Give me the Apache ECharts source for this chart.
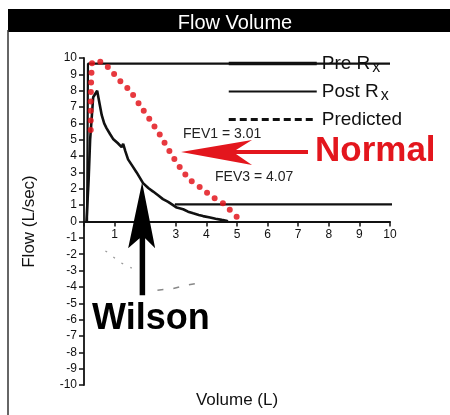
<!DOCTYPE html>
<html><head><meta charset="utf-8">
<script src="https://cdn.jsdelivr.net/npm/echarts@6/dist/echarts.min.js"></script>
<style>html,body{margin:0;padding:0;background:#fff}#c{width:450px;height:415px}</style>
</head><body><div id="c"></div>
<script>
// ---- data ----
const seriesNames = ['Pre Rx', 'Post Rx', 'Predicted'];
const preRx = [[0.1, 0], [0.13, 9.65], [10, 9.65]];
const preRxTail = [[2.97, 1.05], [12, 1.05]];
const postRx = [[0.08, 0], [0.15, 2.5], [0.2, 5.0], [0.3, 7.6], [0.43, 8.0], [0.5, 7.3], [0.58, 6.5], [0.66, 6.0],
  [0.74, 5.7], [0.85, 5.35], [0.95, 5.05], [1.1, 4.8], [1.23, 4.55], [1.28, 4.75], [1.35, 4.3], [1.44, 3.8],
  [1.58, 3.4], [1.72, 3.0], [1.93, 2.35], [2.1, 2.05], [2.26, 1.83], [2.42, 1.6], [2.58, 1.37], [2.75, 1.2],
  [2.91, 1.0], [3.03, 0.85], [3.24, 0.75], [3.4, 0.6], [3.57, 0.5], [3.75, 0.4], [3.89, 0.33], [4.12, 0.25],
  [4.3, 0.17], [4.5, 0.1], [4.65, 0.05], [4.7, 0]];
const predictedA = [[0.7, -1.8], [0.78, -1.9], [1.18, -2.5], [1.56, -2.85]];
const predictedB = [[2.4, -4.2], [2.9, -4.1], [3.36, -3.9], [3.9, -3.7]];
const normalCurve = [[0.22, 5.6], [0.22, 7.1], [0.25, 9.3], [0.3, 9.8], [0.58, 9.75], [0.85, 9.3], [1.18, 8.6],
  [1.5, 8.0], [1.83, 7.1], [2.16, 6.2], [2.48, 5.3], [2.81, 4.25], [3.14, 3.3], [3.46, 2.56], [3.9, 1.94],
  [4.2, 1.5], [4.55, 1.1], [4.77, 0.7], [5.0, 0.27]];
const xRange = [0, 10];
const yRange = [-10, 10];
const fev1 = 'FEV1 = 3.01';
const fev3 = 'FEV3 = 4.07';
const redArrowTip = [3.17, 4.25];
const wilsonArrowTip = [1.9, 2.4];

// ---- chart ----
const GRID_TOP = 58, GRID_H = 327;
const zeroOffset = -GRID_H * (0 - yRange[0]) / (yRange[1] - yRange[0]);
const chart = echarts.init(document.getElementById('c'), null, {renderer: 'canvas'});
const RED = '#e3161d';
const FONT = 'Liberation Sans, Arial, sans-serif';
const hideSym = {opacity: 0};
chart.setOption({
  animation: false,
  backgroundColor: '#fff',
  title: {text: 'Flow Volume', left: 230, textAlign: 'center', top: 8, z: 10,
    textStyle: {color: '#fff', fontSize: 20, fontWeight: 'normal', fontFamily: FONT}},
  grid: {left: 84, right: 60, top: GRID_TOP, height: GRID_H, outerBoundsMode: 'none', containLabel: false},
  legend: {
    orient: 'vertical', left: 222, top: 49, itemWidth: 88, itemHeight: 14, itemGap: 6,
    selectedMode: false,
    data: [
      {name: 'Pre Rx', itemStyle: hideSym, lineStyle: {color: '#111', width: 3.5, type: 'solid'}},
      {name: 'Post Rx', itemStyle: hideSym, lineStyle: {color: '#111', width: 2, type: 'solid'}},
      {name: 'Predicted', itemStyle: hideSym, lineStyle: {color: '#111', width: 3, type: [7, 4]}}
    ],
    formatter: n => n === 'Pre Rx' ? '{m|Pre R}{s|x}' : n === 'Post Rx' ? '{m|Post R}{s|x}' : '{m|Predicted}',
    textStyle: {rich: {
      m: {fontSize: 19, color: '#111', fontFamily: FONT},
      s: {fontSize: 16, color: '#111', fontFamily: FONT, padding: [9, 0, 0, 2]}
    }}
  },
  xAxis: {
    type: 'value', min: xRange[0], max: xRange[1], interval: 1,
    position: 'bottom', offset: zeroOffset,
    name: 'Volume (L)', nameLocation: 'middle', nameGap: 170,
    nameTextStyle: {fontSize: 17, color: '#111', fontFamily: FONT},
    axisLine: {onZero: false, lineStyle: {color: '#111', width: 1.8}},
    axisTick: {show: true, length: 5, lineStyle: {color: '#111', width: 1.5}},
    axisLabel: {fontSize: 12, color: '#111', fontFamily: FONT, margin: 7, formatter: v => v === 0 ? '' : String(v)},
    splitLine: {show: false}
  },
  yAxis: {
    type: 'value', min: yRange[0], max: yRange[1], interval: 1,
    name: 'Flow (L/sec)', nameLocation: 'middle', nameGap: 46, nameRotate: 90,
    nameTextStyle: {fontSize: 17, color: '#111', fontFamily: FONT},
    axisLine: {show: true, lineStyle: {color: '#111', width: 1.8}},
    axisTick: {show: true, length: 5, lineStyle: {color: '#111', width: 1.5}},
    axisLabel: {fontSize: 12, color: '#111', fontFamily: FONT, margin: 7, showMinLabel: true, showMaxLabel: true},
    splitLine: {show: false}
  },
  series: [
    {name: 'Pre Rx', type: 'line', data: preRx, symbol: 'none', clip: false, itemStyle: {color: '#111'},
      lineStyle: {color: '#111', width: 2.2}, z: 3},
    {name: 'Pre Rx', type: 'line', data: preRxTail, symbol: 'none', clip: false, itemStyle: {color: '#111'},
      lineStyle: {color: '#111', width: 2.2}, z: 3},
    {name: 'Post Rx', type: 'line', data: postRx, symbol: 'none', clip: false, itemStyle: {color: '#111'},
      lineStyle: {color: '#111', width: 2.6}, z: 3},
    {name: 'Predicted', type: 'line', data: predictedA, symbol: 'none', itemStyle: {color: '#111'},
      lineStyle: {color: '#999', width: 1.3, type: [2, 8]}, z: 2},
    {name: 'Predicted', type: 'line', data: predictedB, symbol: 'none', itemStyle: {color: '#111'},
      lineStyle: {color: '#888', width: 1.5, type: [6, 10]}, z: 2},
    {name: 'Normal', type: 'line', data: normalCurve, symbol: 'none', smooth: 0.3, clip: false,
      itemStyle: {color: RED},
      lineStyle: {color: RED, width: 6, type: [0, 9.5], cap: 'round', opacity: 0.85}, z: 5}
  ]
});

const tipR = chart.convertToPixel({gridIndex: 0}, redArrowTip);
const tipW = chart.convertToPixel({gridIndex: 0}, wilsonArrowTip);
const rel = (t, pts) => pts.map(p => [t[0] + p[0], t[1] + p[1]]);
chart.setOption({
  graphic: [
    {type: 'rect', z: 0, shape: {x: 8, y: 9, width: 442, height: 23}, style: {fill: '#000'}},
    {type: 'line', z: 0, shape: {x1: 8, y1: 30, x2: 8, y2: 415}, style: {stroke: '#333', lineWidth: 1.5}},
    {type: 'text', z: 20, x: 183, y: 134, style: {text: fev1, fontSize: 14, fontFamily: FONT, fill: '#222', textVerticalAlign: 'middle'}},
    {type: 'text', z: 20, x: 215, y: 177, style: {text: fev3, fontSize: 14, fontFamily: FONT, fill: '#222', textVerticalAlign: 'middle'}},
    {type: 'text', z: 20, x: 315, y: 151, style: {text: 'Normal', fontSize: 35, fontWeight: 'bold', fontFamily: FONT, fill: RED, textVerticalAlign: 'middle'}},
    {type: 'text', z: 20, x: 92, y: 319, style: {text: 'Wilson', fontSize: 36, fontWeight: 'bold', fontFamily: FONT, fill: '#000', textVerticalAlign: 'middle'}},
    {type: 'polygon', z: 20, shape: {points: rel(tipR, [[0, 0], [71, -12], [55, -2], [127, -2], [127, 2], [55, 2], [71, 13]])},
      style: {fill: RED}},
    {type: 'polygon', z: 20, shape: {points: rel(tipW, [[0, 0], [13, 66], [3, 56], [3, 113], [-2.5, 113], [-2.5, 56], [-14, 66]])},
      style: {fill: '#000'}}
  ]
});
</script></body></html>
